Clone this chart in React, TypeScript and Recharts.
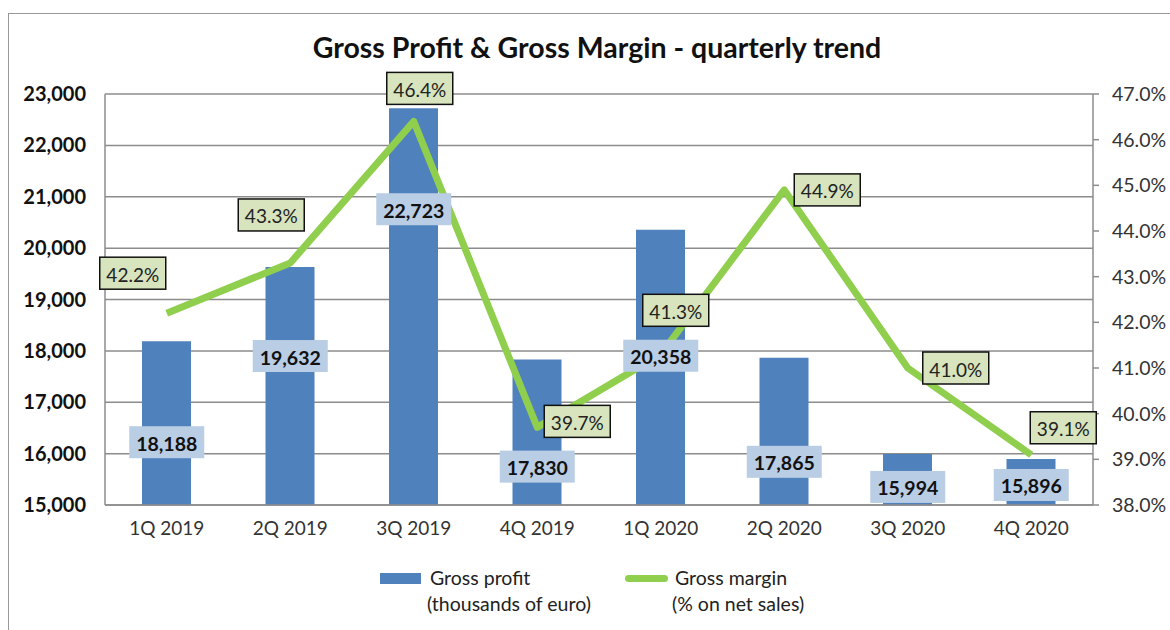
import { Bar, CartesianGrid, ComposedChart, LabelList, Line, XAxis, YAxis } from 'recharts';

const quarters = ['1Q 2019', '2Q 2019', '3Q 2019', '4Q 2019', '1Q 2020', '2Q 2020', '3Q 2020', '4Q 2020'];
const grossProfit = [18188, 19632, 22723, 17830, 20358, 17865, 15994, 15896];
const grossMargin = [42.2, 43.3, 46.4, 39.7, 41.3, 44.9, 41.0, 39.1];
const profitTicks = [15000, 16000, 17000, 18000, 19000, 20000, 21000, 22000, 23000];
const marginTicks = [38, 39, 40, 41, 42, 43, 44, 45, 46, 47];

// hand placed labels, like in the original sheet (px)
const profitLabelDrop = [101, 89, 101, 107, 126, 104, 33, 26];
const marginLabelShift = [
  [-34, -40],
  [-19, -48],
  [6, -33],
  [40, -6],
  [15, -44],
  [43, 0],
  [48, 0],
  [32, -27],
];

const data = quarters.map((q, i) => ({ quarter: q, profit: grossProfit[i], margin: grossMargin[i] }));

const FONT = 'Lato, "Open Sans", sans-serif';
const GRID = '#8c8c8c';

const fmtThousands = (v: number) => v.toLocaleString('en-US');

// sits on an invisible line so the boxes are drawn above the margin line
function ProfitLabel(props: any) {
  const vb = props.viewBox || {};
  const cx = vb.x ?? props.x;
  const top = vb.y ?? props.y;
  const cy = top + profitLabelDrop[props.index];
  const text = fmtThousands(props.value);
  const bw = text.length * 11.5 + 6;
  return (
    <g>
      <rect x={cx - bw / 2} y={cy - 16} width={bw} height={32} fill="#b9cde5" />
      <text x={cx} y={cy + 1} textAnchor="middle" dominantBaseline="central" fontFamily={FONT} fontWeight={700} fontSize={19.5} fill="#111">
        {text}
      </text>
    </g>
  );
}

function MarginLabel(props: any) {
  const vb = props.viewBox || {};
  const x = vb.x ?? props.x;
  const y = vb.y ?? props.y;
  const [dx, dy] = marginLabelShift[props.index];
  const cx = x + dx;
  const cy = y + dy;
  const text = `${Number(props.value).toFixed(1)}%`;
  return (
    <g>
      <rect x={cx - 33} y={cy - 16} width={66} height={32} fill="#d7e4bd" stroke="#111" strokeWidth={1.5} />
      <text x={cx} y={cy + 1} textAnchor="middle" dominantBaseline="central" fontFamily={FONT} fontSize={19} fill="#222">
        {text}
      </text>
    </g>
  );
}

export default function App() {
  return (
    <div style={{ position: 'fixed', left: 0, top: 0, width: 1170, height: 630, background: '#fff', overflow: 'hidden', fontFamily: FONT }}>
      <div style={{ position: 'absolute', left: 8, top: 13, width: 1200, height: 700, border: '1.5px solid #999', boxSizing: 'border-box' }} />
      <div style={{ position: 'absolute', left: 0, top: 30, width: 1194, textAlign: 'center', fontSize: 28.5, fontWeight: 700, color: '#111' }}>
        Gross Profit &amp; Gross Margin - quarterly trend
      </div>
      <div style={{ position: 'absolute', left: 0, top: 0 }}>
        <ComposedChart width={1170} height={630} data={data} margin={{ top: 94, right: 0, bottom: 85, left: 20 }}>
          <CartesianGrid yAxisId="left" vertical={false} stroke={GRID} strokeWidth={1.5} />
          <XAxis
            dataKey="quarter"
            axisLine={{ stroke: GRID, strokeWidth: 1.5 }}
            tickLine={false}
            tickSize={0}
            tickMargin={17}
            height={40}
            tick={{ fontSize: 19, fill: '#333', fontFamily: FONT }}
          />
          <YAxis
            yAxisId="left"
            domain={[15000, 23000]}
            ticks={profitTicks}
            width={85}
            axisLine={{ stroke: GRID, strokeWidth: 1.5 }}
            tickLine={false}
            tickSize={0}
            tickMargin={19}
            tickFormatter={fmtThousands}
            tick={{ fontSize: 20, fill: '#111', fontWeight: 700, fontFamily: FONT }}
          />
          <YAxis
            yAxisId="right"
            orientation="right"
            domain={[38, 47]}
            ticks={marginTicks}
            width={77}
            axisLine={{ stroke: GRID, strokeWidth: 1.5 }}
            tickLine={{ stroke: GRID, strokeWidth: 1.5 }}
            tickSize={6}
            tickMargin={13}
            tickFormatter={(v: number) => `${v.toFixed(1)}%`}
            tick={{ fontSize: 19.5, fill: '#333', fontFamily: FONT }}
          />
          <Bar yAxisId="left" dataKey="profit" fill="#4f81bd" barSize={49} isAnimationActive={false} />
          <Line
            yAxisId="right"
            dataKey="margin"
            type="linear"
            stroke="#8fcf4d"
            strokeWidth={7}
            strokeLinejoin="round"
            dot={false}
            activeDot={false}
            isAnimationActive={false}
          >
            <LabelList dataKey="margin" content={MarginLabel} />
          </Line>
          <Line
            yAxisId="left"
            dataKey="profit"
            stroke="none"
            dot={false}
            activeDot={false}
            legendType="none"
            isAnimationActive={false}
          >
            <LabelList dataKey="profit" content={ProfitLabel} />
          </Line>
        </ComposedChart>
      </div>
      <div style={{ position: 'absolute', left: 380, top: 565, fontSize: 19.5, color: '#222', lineHeight: '26px' }}>
        <div style={{ position: 'absolute', left: 0, top: 8, width: 41, height: 11, background: '#4f81bd' }} />
        <div style={{ position: 'absolute', left: 50, top: 0, whiteSpace: 'nowrap' }}>Gross profit</div>
        <div style={{ position: 'absolute', left: 47, top: 26, whiteSpace: 'nowrap' }}>(thousands of euro)</div>
      </div>
      <div style={{ position: 'absolute', left: 625, top: 565, fontSize: 19.5, color: '#222', lineHeight: '26px' }}>
        <div style={{ position: 'absolute', left: 0, top: 10, width: 43, height: 7, borderRadius: 4, background: '#8fcf4d' }} />
        <div style={{ position: 'absolute', left: 50, top: 0, whiteSpace: 'nowrap' }}>Gross margin</div>
        <div style={{ position: 'absolute', left: 47, top: 26, whiteSpace: 'nowrap' }}>(% on net sales)</div>
      </div>
    </div>
  );
}
